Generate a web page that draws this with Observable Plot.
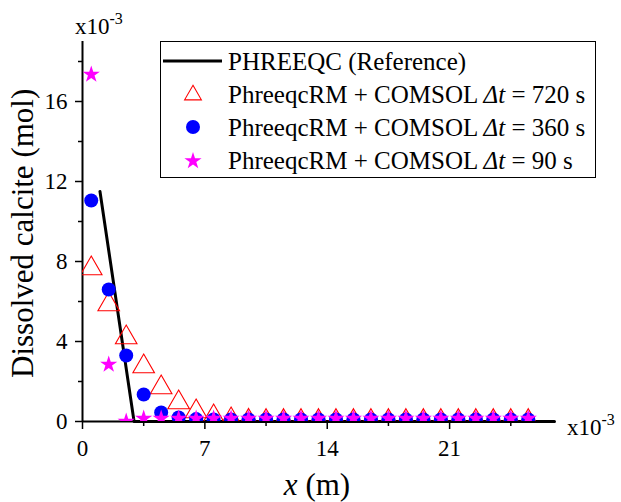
<!DOCTYPE html>
<html><head><meta charset="utf-8">
<script src="https://cdn.jsdelivr.net/npm/d3@7"></script>
<script src="https://cdn.jsdelivr.net/npm/@observablehq/plot@0.6"></script>
<style>
body{margin:0;background:#fff}
#chart{position:relative;width:621px;height:502px}
</style>
</head><body><div id="chart"></div>
<script>
// x positions of simulated cells (x10^-3 m)
const xCells = [0.5,1.5,2.5,3.5,4.5,5.5,6.5,7.5,8.5,9.5,10.5,11.5,12.5,13.5,14.5,15.5,16.5,17.5,18.5,19.5,20.5,21.5,22.5,23.5,24.5,25.5];
// Dissolved calcite (x10^-3 mol)
const dt720 = [7.65,5.85,4.2,2.75,1.7,0.95,0.5,0.25,0.1,0.03,0.02,0.02,0.02,0.02,0.02,0.02,0.02,0.02,0.02,0.02,0.02,0.02,0.02,0.02,0.02,0.02];
const dt360 = [11.05,6.6,3.3,1.35,0.45,0.2,0.12,0.1,0.1,0.1,0.1,0.1,0.1,0.1,0.1,0.1,0.1,0.1,0.1,0.1,0.1,0.1,0.1,0.1,0.1,0.1];
const dt90  = [17.35,2.85,0,0.15,0.15,0.15,0.15,0.15,0.15,0.15,0.15,0.15,0.15,0.15,0.15,0.15,0.15,0.15,0.15,0.15,0.15,0.15,0.15,0.15,0.15,0.15];
// PHREEQC reference line
const refX = [1.0, 2.95, 27];
const refY = [11.5, 0, 0];
// ticks
const xMajor = [0,7,14,21];
const xMinor = [3.5,10.5,17.5,24.5];
const yMajor = [0,4,8,12,16];
const yMinor = [2,6,10,14,18];
const legendLabels = ["PHREEQC (Reference)","PhreeqcRM + COMSOL |720 s","PhreeqcRM + COMSOL |360 s","PhreeqcRM + COMSOL |90 s"];

const toRows = (ys) => xCells.map((x,i)=>({x, y: ys[i]}));
const refRows = refX.map((x,i)=>({x, y: refY[i]}));

const font = "Liberation Serif, Times New Roman, serif";
const plot = Plot.plot({
  width: 621, height: 502,
  marginLeft: 82, marginRight: 67, marginTop: 41, marginBottom: 81,
  x: {domain: [0, 27]},
  y: {domain: [0, 19]},
  style: {fontFamily: font, fontSize: "23px", color: "black", background: "white"},
  marks: [
    Plot.axisX({ticks: xMajor, tickSize: 8, tickPadding: 10, fontSize: 23, label: null, tickFormat: d => String(d), strokeWidth: 1.5}),
    Plot.axisX({ticks: xMinor, tickSize: 5, text: null, label: null, strokeWidth: 1.5}),
    Plot.axisY({ticks: yMajor, tickSize: 7, tickPadding: 8, fontSize: 23, label: null, tickFormat: d => String(d), strokeWidth: 1.5}),
    Plot.axisY({ticks: yMinor, tickSize: 4, text: null, label: null, strokeWidth: 1.5}),
    Plot.ruleY([0], {stroke: "black", strokeWidth: 2}),
    Plot.ruleX([0], {stroke: "black", strokeWidth: 2}),
    Plot.line(refRows, {x: "x", y: "y", stroke: "black", strokeWidth: 3}),
    Plot.dot(toRows(dt720), {x: "x", y: "y", symbol: "triangle", r: 8, stroke: "#ff0000", strokeWidth: 1.1, fill: "none", clip: true}),
    Plot.dot(toRows(dt360), {x: "x", y: "y", symbol: "circle", r: 7, fill: "#0000ff", stroke: "none", clip: true}),
    Plot.dot(toRows(dt90), {x: "x", y: "y", symbol: "star", r: 5.4, fill: "#ff00ff", stroke: "none", clip: true})
  ]
});
document.getElementById("chart").appendChild(plot);

const svg = d3.select(plot);
// y label
svg.append("text").attr("transform", "translate(33,378) rotate(-90)")
  .attr("text-anchor","start").attr("font-family", font).attr("font-size", 31).attr("fill","black")
  .text("Dissolved calcite (mol)");
// x label
const xl = svg.append("text").attr("x", 317).attr("y", 495).attr("text-anchor","middle")
  .attr("font-family", font).attr("font-size", 31).attr("fill","black");
xl.append("tspan").attr("font-style","italic").text("x");
xl.append("tspan").text(" (m)");
// exponents
function expo(x, y) {
  const t = svg.append("text").attr("x", x).attr("y", y).attr("text-anchor","start")
    .attr("font-family", font).attr("font-size", 23).attr("fill","black");
  t.append("tspan").text("x10");
  t.append("tspan").attr("dy", -10).attr("font-size", 16).text("-3");
}
expo(75, 34);
expo(567, 435);

// legend
const lg = svg.append("g");
lg.append("rect").attr("x", 160.5).attr("y", 41.5).attr("width", 435).attr("height", 136)
  .attr("fill","white").attr("stroke","black").attr("stroke-width", 1);
const rowY = [61, 94, 127, 160];
lg.append("line").attr("x1", 163).attr("x2", 222).attr("y1", rowY[0]).attr("y2", rowY[0]).attr("stroke","black").attr("stroke-width", 3);
const ptri = d3.symbol(d3.symbolTriangle2, 8*8*Math.PI)();
const pcir = d3.symbol(d3.symbolCircle, 7*7*Math.PI)();
const pstar = d3.symbol(d3.symbolStar, 5.4*5.4*Math.PI)();
lg.append("path").attr("d", ptri).attr("transform", `translate(193,${rowY[1]+1})`).attr("fill","none").attr("stroke","#ff0000").attr("stroke-width",1.1);
lg.append("path").attr("d", pcir).attr("transform", `translate(193,${rowY[2]})`).attr("fill","#0000ff");
lg.append("path").attr("d", pstar).attr("transform", `translate(193,${rowY[3]+1})`).attr("fill","#ff00ff");
legendLabels.forEach((lab, i) => {
  const t = lg.append("text").attr("x", 228).attr("y", rowY[i] + 9).attr("text-anchor","start")
    .attr("font-family", font).attr("font-size", 25).attr("fill","black");
  const parts = lab.split("|");
  t.append("tspan").text(parts[0]);
  if (parts.length > 1) {
    t.append("tspan").attr("font-style","italic").text("Δt");
    t.append("tspan").text(" = " + parts[1]);
  }
});
</script>
</body></html>
